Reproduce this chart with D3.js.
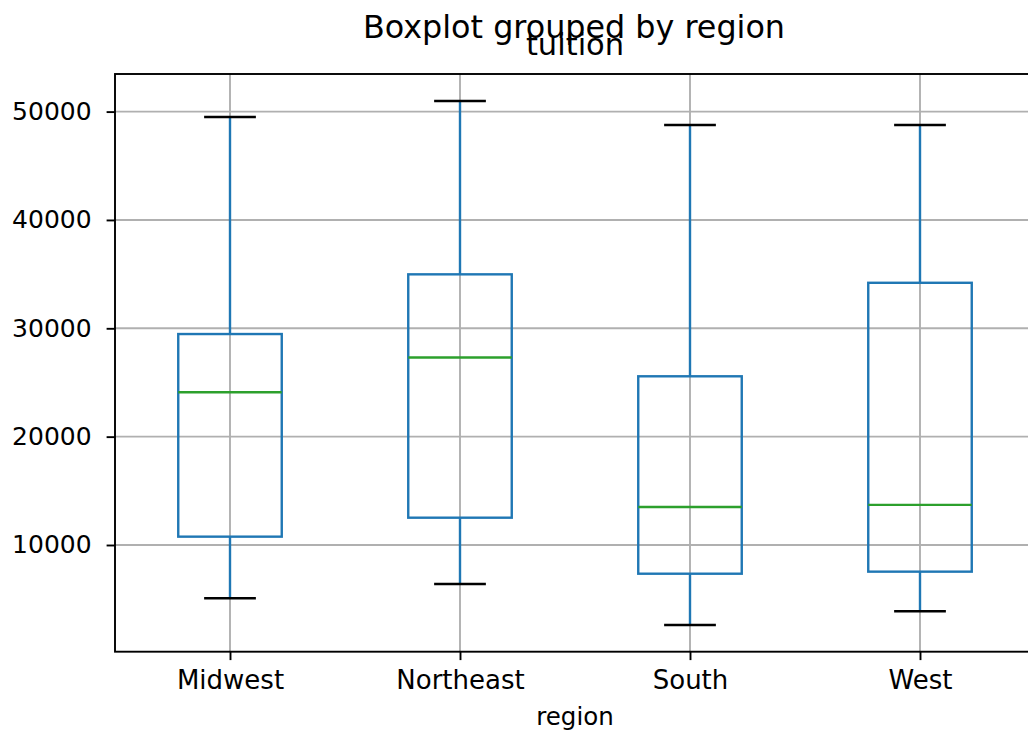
<!DOCTYPE html>
<html>
<head>
<meta charset="utf-8">
<script src="https://cdn.jsdelivr.net/npm/d3@7"></script>
<style>
  body { margin: 0; background: #fff; }
  text { font-family: "DejaVu Sans", sans-serif; }
</style>
</head>
<body>
<div id="chart"></div>
<script>
// box statistics (tuition by region)
const regions = ["Midwest", "Northeast", "South", "West"];
const whiskerLow = [5080, 6400, 2620, 3880];
const q1 = [10770, 12520, 7350, 7540];
const median = [24100, 27300, 13500, 13700];
const q3 = [29470, 34980, 25570, 34200];
const whiskerHigh = [49500, 50980, 48760, 48760];
const yTicks = [10000, 20000, 30000, 40000, 50000];

const data = regions.map((r, i) => ({
  region: r, lo: whiskerLow[i], q1: q1[i], med: median[i], q3: q3[i], hi: whiskerHigh[i]
}));

const W = 1028, H = 734;
// plot area runs past the right edge of the picture
const margin = {top: 74, left: 115},
    width = 920,
    height = 577.7;

const svg = d3.select("#chart")
  .append("svg")
    .attr("width", W)
    .attr("height", H);

const g = svg.append("g")
    .attr("transform", `translate(${margin.left},${margin.top})`);

const x = d3.scalePoint()
  .domain(regions)
  .range([0, width])
  .padding(0.5);

const y = d3.scaleLinear()
  .domain([152, 53470])
  .range([height, 0]);

const boxW = x.step() * 0.45;
const capW = boxW / 2;

// grid
g.append("g")
  .selectAll("line.hgrid")
  .data(yTicks)
  .join("line")
    .attr("x1", 0).attr("x2", width)
    .attr("y1", d => y(d)).attr("y2", d => y(d))
    .attr("stroke", "#b0b0b0").attr("stroke-width", 1.9);
g.append("g")
  .selectAll("line.vgrid")
  .data(regions)
  .join("line")
    .attr("x1", d => x(d)).attr("x2", d => x(d))
    .attr("y1", 0).attr("y2", height)
    .attr("stroke", "#b0b0b0").attr("stroke-width", 1.9);

const boxes = g.append("g")
  .selectAll("g")
  .data(data)
  .join("g");

// whiskers
boxes.append("line")
  .attr("x1", d => x(d.region)).attr("x2", d => x(d.region))
  .attr("y1", d => y(d.q3)).attr("y2", d => y(d.hi))
  .attr("stroke", "#1f77b4").attr("stroke-width", 2.4);
boxes.append("line")
  .attr("x1", d => x(d.region)).attr("x2", d => x(d.region))
  .attr("y1", d => y(d.q1)).attr("y2", d => y(d.lo))
  .attr("stroke", "#1f77b4").attr("stroke-width", 2.4);

// caps
boxes.append("line")
  .attr("x1", d => x(d.region) - capW / 2).attr("x2", d => x(d.region) + capW / 2)
  .attr("y1", d => y(d.hi)).attr("y2", d => y(d.hi))
  .attr("stroke", "#000").attr("stroke-width", 2.4);
boxes.append("line")
  .attr("x1", d => x(d.region) - capW / 2).attr("x2", d => x(d.region) + capW / 2)
  .attr("y1", d => y(d.lo)).attr("y2", d => y(d.lo))
  .attr("stroke", "#000").attr("stroke-width", 2.4);

// box
boxes.append("rect")
  .attr("x", d => x(d.region) - boxW / 2)
  .attr("y", d => y(d.q3))
  .attr("width", boxW)
  .attr("height", d => y(d.q1) - y(d.q3))
  .attr("fill", "none")
  .attr("stroke", "#1f77b4").attr("stroke-width", 2.4);

// median
boxes.append("line")
  .attr("x1", d => x(d.region) - boxW / 2).attr("x2", d => x(d.region) + boxW / 2)
  .attr("y1", d => y(d.med)).attr("y2", d => y(d.med))
  .attr("stroke", "#2ca02c").attr("stroke-width", 2.4);

// axes
const yAxis = g.append("g")
  .call(d3.axisLeft(y).tickValues(yTicks).tickFormat(d3.format("d")).tickSize(8.4).tickPadding(15));
const xAxis = g.append("g")
  .attr("transform", `translate(0,${height})`)
  .call(d3.axisBottom(x).tickSize(8.4).tickPadding(10));

[yAxis, xAxis].forEach(a => {
  a.select(".domain").remove();
  a.selectAll(".tick line").attr("stroke", "#000").attr("stroke-width", 1.9);
  a.selectAll(".tick text").attr("fill", "#000")
    .style("font-family", "'DejaVu Sans', sans-serif");
});
yAxis.selectAll(".tick text").style("font-size", "25px");
xAxis.selectAll(".tick text").style("font-size", "26px");

// spines
g.append("rect")
  .attr("x", 0).attr("y", 0)
  .attr("width", width).attr("height", height)
  .attr("fill", "none")
  .attr("stroke", "#000").attr("stroke-width", 1.9);

// titles
svg.append("text")
  .attr("x", 574).attr("y", 37.5)
  .attr("text-anchor", "middle")
  .style("font-size", "31.8px")
  .text("Boxplot grouped by region");
svg.append("text")
  .attr("x", margin.left + width / 2).attr("y", 55)
  .attr("text-anchor", "middle")
  .style("font-size", "30.5px")
  .text("tuition");
svg.append("text")
  .attr("x", margin.left + width / 2).attr("y", 725)
  .attr("text-anchor", "middle")
  .style("font-size", "24.5px")
  .text("region");
</script>
</body>
</html>
